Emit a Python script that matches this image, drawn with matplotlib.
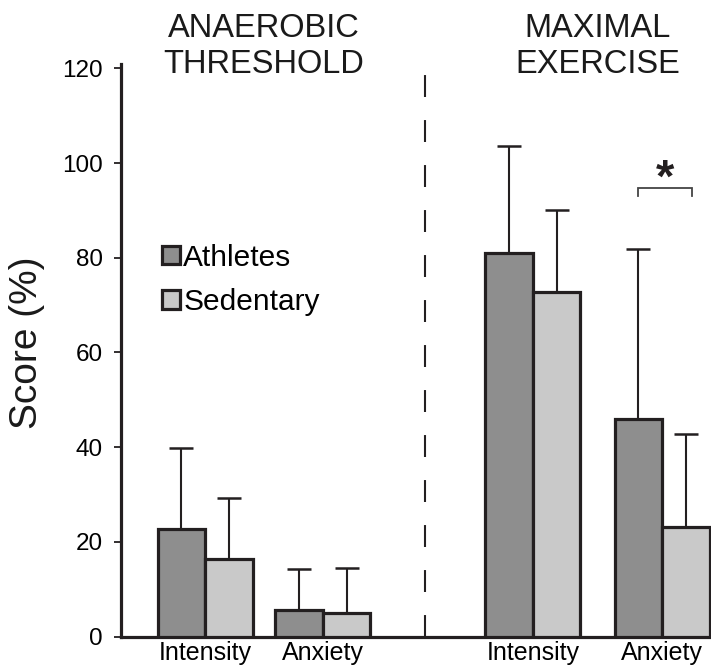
import matplotlib
matplotlib.use("Agg")
import matplotlib.pyplot as plt
import matplotlib.transforms as mtransforms
from matplotlib.patches import Patch

plt.rcParams['font.family'] = ['Liberation Sans', 'DejaVu Sans']

# values (score, %)
conditions = ['ANAEROBIC\nTHRESHOLD', 'MAXIMAL\nEXERCISE']
measures = ['Intensity', 'Anxiety', 'Intensity', 'Anxiety']
athletes_mean = [22.7, 5.7, 80.9, 45.9]
athletes_sd = [17.1, 8.6, 22.8, 35.9]
sedentary_mean = [16.3, 5.0, 72.8, 23.2]
sedentary_sd = [13.0, 9.5, 17.3, 19.6]
yticks = [0, 20, 40, 60, 80, 100, 120]

# layout (x in bar-width units)
centers = [1.77, 4.25, 8.67, 11.39]
cond_centers = [(centers[0] + centers[1]) / 2, (centers[2] + centers[3]) / 2]
divider_x = 6.4
w = 1.0

edge = '#231f20'
c_ath = '#8e8e8e'
c_sed = '#c9c9c9'

fig = plt.figure(figsize=(7.11, 6.7), dpi=100)
ax = fig.add_axes([121 / 711, 0.05, 1 - 121 / 711, 0.855])

xa = [c - w / 2 for c in centers]
xs = [c + w / 2 for c in centers]

err_kw = dict(ecolor=edge, elinewidth=1.5, capsize=8.5, capthick=1.8)
ax.bar(xa, athletes_mean, width=w, color=c_ath, edgecolor=edge, linewidth=2.3,
       yerr=[[0] * 4, athletes_sd], error_kw=err_kw, zorder=3, label='Athletes')
ax.bar(xs, sedentary_mean, width=w, color=c_sed, edgecolor=edge, linewidth=2.3,
       yerr=[[0] * 4, sedentary_sd], error_kw=err_kw, zorder=3, label='Sedentary')

# dashed divider between conditions
lw_div = 1.5
ax.plot([divider_x, divider_x], [0, 118.6], color=edge, lw=lw_div,
        dashes=(15.8 / lw_div, 16.6 / lw_div), solid_capstyle='butt', zorder=2)

# significance bracket over maximal-exercise anxiety
bx0 = xa[3]
bx1 = xs[3] + 0.12
ax.plot([bx0, bx0, bx1, bx1], [93.1, 94.8, 94.8, 93.1], color='#444444', lw=1.3,
        solid_joinstyle='miter')
ax.text(centers[3] + 0.06, 96.4, '*', ha='center', va='center', fontsize=34,
        fontweight='bold', color=edge)

ax.set_xlim(0, 12.42)
ax.set_ylim(0, 121)
ax.set_yticks(yticks)
ax.set_xticks(centers)
ax.set_xticklabels(measures, fontsize=18)
ax.tick_params(axis='x', length=0, pad=3)
ax.tick_params(axis='y', length=5, width=1.3, pad=8, labelsize=17.5, color=edge)
for s in ['top', 'right']:
    ax.spines[s].set_visible(False)
for s in ['left', 'bottom']:
    ax.spines[s].set_linewidth(2.3)
    ax.spines[s].set_color(edge)

# condition headings
trans = mtransforms.blended_transform_factory(ax.transData, fig.transFigure)
for cx, name in zip(cond_centers, conditions):
    ax.text(cx, 0.931, name, transform=trans, ha='center', va='center',
            fontsize=23.5, linespacing=1.2, color='#1a1a1a')

fig.text(27 / 711, 1 - 343 / 670, 'Score (%)', rotation=90, ha='center', va='center',
         fontsize=28, color='#1a1a1a')

handles = [Patch(facecolor=c_ath, edgecolor=edge, linewidth=2.3),
           Patch(facecolor=c_sed, edgecolor=edge, linewidth=2.3)]
ax.legend(handles, ['Athletes', 'Sedentary'], loc='upper left',
          bbox_to_anchor=(0.07, 0.686), frameon=False, fontsize=21.5,
          handlelength=0.58, handleheight=0.58, handletextpad=0.12,
          labelspacing=0.56, borderpad=0, borderaxespad=0)

fig.savefig('out.png', dpi=100)
